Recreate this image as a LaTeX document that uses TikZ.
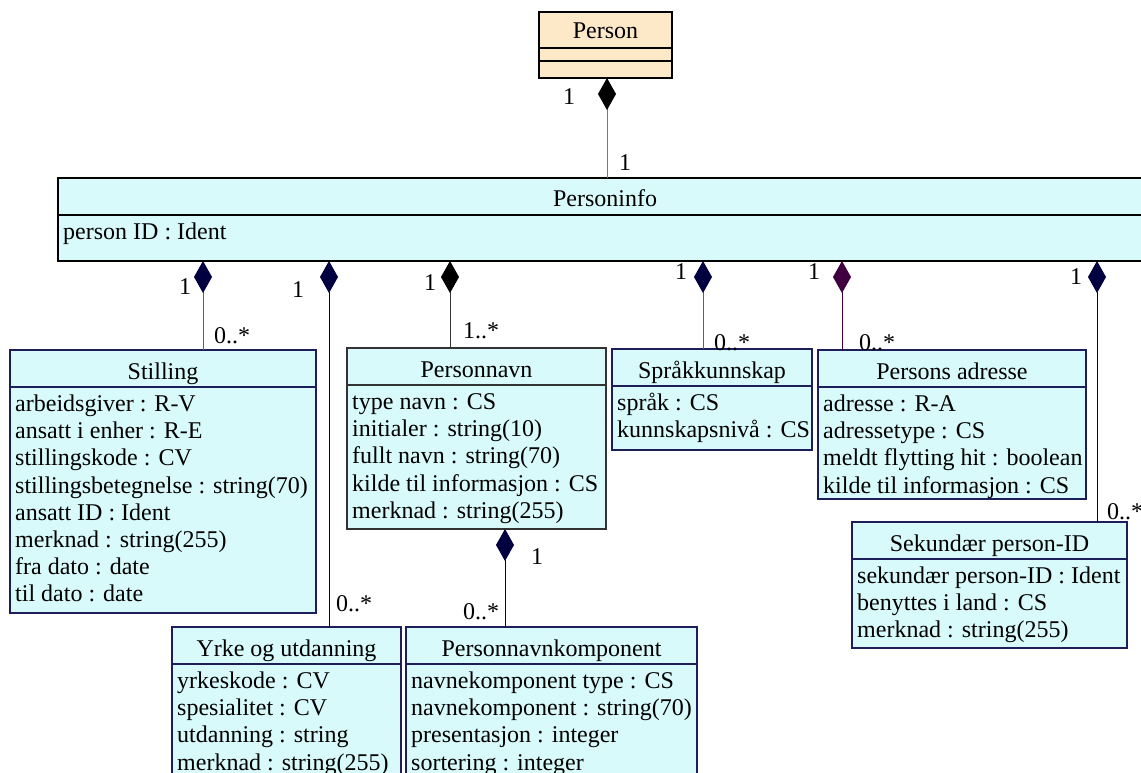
\documentclass[tikz,border=0pt]{standalone}
\usepackage{fontspec}
\setmainfont{Liberation Serif}
\usetikzlibrary{arrows.meta,calc}
\definecolor{cyanfill}{RGB}{216,250,250}
\definecolor{peach}{RGB}{253,232,200}
\definecolor{bordernavy}{RGB}{30,30,90}
\definecolor{dnavy}{RGB}{0,0,64}
\definecolor{dpurple}{RGB}{64,0,64}
\definecolor{lgray}{RGB}{120,120,120}
\definecolor{lnavy}{RGB}{90,90,140}
\newcommand\umlclass[8]{%
  \node[clsbox, draw=#7, minimum width=#4, minimum height=#5, anchor=north west] (#1) at (#2,#3) {};
  \draw[draw=#7, line width=1.1pt] ($(#1.north west)+(0,37)$) -- ($(#1.north east)+(0,37)$);
  \node[clstitle] (#1-t) at ($(#1.north)+(0,29)$) {#6};
  \foreach \t [count=\i] in {#8}
    \node[attr] (#1-\i) at ($(#1.north west)+(5,{61.5+(\i-1)*27.2})$) {\t};
}
\begin{document}
\begin{tikzpicture}[x=1pt,y=-1pt,
  font=\fontsize{24}{27}\selectfont,
  clsbox/.style={rectangle, fill=cyanfill, line width=1.1pt, inner sep=0pt, outer sep=0pt},
  clstitle/.style={anchor=base, inner sep=0pt},
  attr/.style={anchor=base west, inner sep=0pt},
  lbl/.style={inner sep=0pt},
  comp/.style={line width=1pt, {Diamond[length=32pt,width=18pt,color=#1,fill=#1]}-},
]
\useasboundingbox (0,0) rectangle (1141,773);
\clip (0,0) rectangle (1141,773);

% Person
\node[rectangle, fill=peach, draw=black, line width=1.2pt, minimum width=133, minimum height=66, anchor=north west, inner sep=0pt, outer sep=0pt] (person) at (539,12) {};
\draw[line width=1.1pt] ($(person.north west)+(0,36)$) -- ($(person.north east)+(0,36)$);
\draw[line width=1.1pt] ($(person.north west)+(0,49)$) -- ($(person.north east)+(0,49)$);
\node[clstitle] (person-t) at ($(person.north)+(0,27)$) {Person};

% Personinfo
\umlclass{personinfo}{58}{178}{1094}{83}{Personinfo}{black}{person ID : Ident}

\umlclass{stilling}{10}{350}{306}{263}{Stilling}{bordernavy}{arbeidsgiver : R-V, ansatt i enher : R-E, stillingskode : CV, stillingsbetegnelse : string(70), ansatt ID : Ident, merknad : string(255), fra dato : date, til dato : date}

\umlclass{personnavn}{347}{348}{259}{181}{Personnavn}{black!80}{type navn : CS, initialer : string(10), fullt navn : string(70), kilde til informasjon : CS, merknad : string(255)}

\umlclass{sprak}{612}{349}{200}{101}{Språkkunnskap}{bordernavy}{språk : CS, kunnskapsnivå : CS}

\umlclass{adresse}{818}{350}{268}{149}{Persons adresse}{bordernavy}{adresse : R-A, adressetype : CS, meldt flytting hit : boolean, kilde til informasjon : CS}

\umlclass{sekundar}{852}{522}{275}{126}{Sekundær person-ID}{bordernavy}{sekundær person-ID : Ident, benyttes i land : CS, merknad : string(255)}

\umlclass{yrke}{172}{627}{229}{180}{Yrke og utdanning}{bordernavy}{yrkeskode : CV, spesialitet : CV, utdanning : string, merknad : string(255)}

\umlclass{komponent}{406}{627}{291}{180}{Personnavnkomponent}{bordernavy}{navnekomponent type : CS, navnekomponent : string(70), presentasjon : integer, sortering : integer}

% connector x positions
\coordinate (xp) at (607,0);
\coordinate (x1) at (203,0);
\coordinate (x2) at (329,0);
\coordinate (x3) at (450,0);
\coordinate (x4) at (703,0);
\coordinate (x5) at (842,0);
\coordinate (x6) at (1097,0);
\coordinate (x7) at (505,0);

\draw[comp=black, draw=lgray] (xp |- person.south) -- (xp |- personinfo.north);
\draw[comp=dnavy, draw=lnavy] (x1 |- personinfo.south) -- (x1 |- stilling.north);
\draw[comp=dnavy, draw=dnavy] (x2 |- personinfo.south) -- (x2 |- yrke.north);
\draw[comp=black, draw=black!80] (x3 |- personinfo.south) -- (x3 |- personnavn.north);
\draw[comp=dnavy, draw=lnavy] (x4 |- personinfo.south) -- (x4 |- sprak.north);
\draw[comp=dpurple, draw=dpurple] (x5 |- personinfo.south) -- (x5 |- adresse.north);
\draw[comp=dnavy, draw=dnavy] (x6 |- personinfo.south) -- (x6 |- sekundar.north);
\draw[comp=dnavy, draw=dnavy] (x7 |- personnavn.south) -- (x7 |- komponent.north);

% multiplicity labels
\node[lbl] (m-p1) at (569,97) {1};
\node[lbl] (m-p2) at (625,163) {1};
\node[lbl] (m-s1) at (185,287) {1};
\node[lbl] (m-s2) at (232,336) {0..*};
\node[lbl] (m-y1) at (298,290) {1};
\node[lbl] (m-y2) at (354,604) {0..*};
\node[lbl] (m-n1) at (430,283) {1};
\node[lbl] (m-n2) at (481,331) {1..*};
\node[lbl] (m-k1) at (681,272) {1};
\node[lbl] (m-k2) at (732,343) {0..*};
\node[lbl] (m-a1) at (814,272) {1};
\node[lbl] (m-a2) at (877,343) {0..*};
\node[lbl] (m-e1) at (1076,277) {1};
\node[lbl] (m-e2) at (1125,512) {0..*};
\node[lbl] (m-c1) at (537,557) {1};
\node[lbl] (m-c2) at (481,612) {0..*};
\end{tikzpicture}
\end{document}
